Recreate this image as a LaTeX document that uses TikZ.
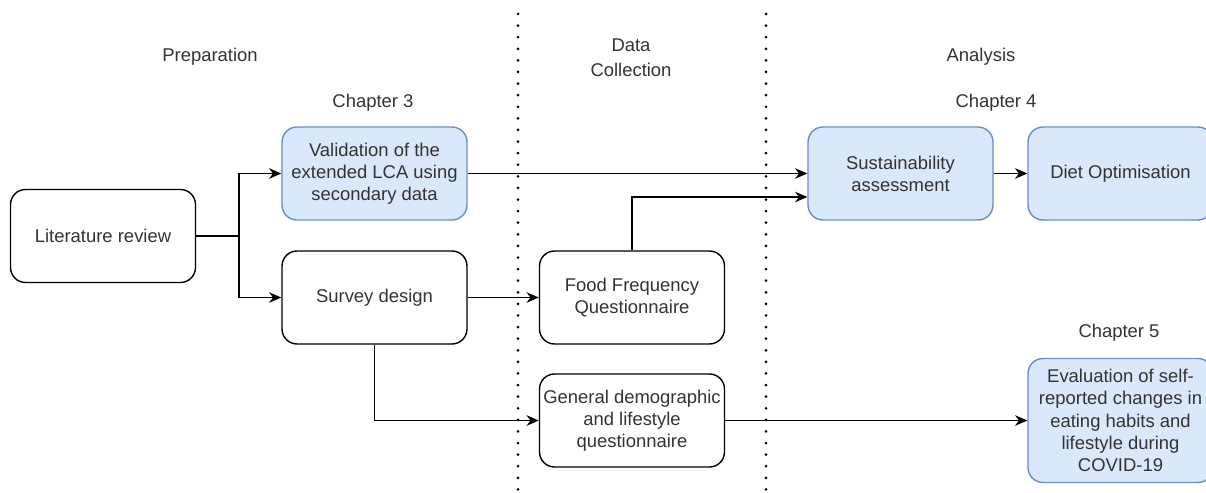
\documentclass[tikz,border=0pt]{standalone}
\usepackage{fontspec}
\setmainfont{Liberation Sans}
\usepackage{xcolor}
\usetikzlibrary{arrows.meta,calc,positioning}
\definecolor{boxblue}{HTML}{DAE8FC}
\definecolor{edgeblue}{HTML}{6C8EBF}
\definecolor{textgrey}{HTML}{333333}

\begin{document}
\begin{tikzpicture}[
    x=0.02cm, y=-0.02cm,
    font=\fontsize{10.5}{12.6}\selectfont,
    text=textgrey,
    stage/.style={rectangle, rounded corners=0.3cm, draw=black, line width=0.8pt,
        minimum width=3.7cm, minimum height=1.86cm, align=center, inner sep=2pt},
    chapter/.style={stage, fill=boxblue, draw=edgeblue},
    label/.style={align=center, inner sep=0},
    flow/.style={line width=0.8pt, -{Stealth[length=7pt, width=6pt]}},
    divider/.style={line width=1.7pt, line cap=round, dash pattern=on 0pt off 6.6pt}
    ]
\useasboundingbox (0,0) rectangle (1206,493);

% phase dividers
\path[draw, divider] (518,14) -- (518,493);
\path[draw, divider] (766,14) -- (766,493);

% phase and chapter titles
\node[label] (prep) at (210,57) {Preparation};
\node[label] (collect) at (631,57.5) {Data\\[1.6pt]Collection};
\node[label] (analysis) at (981,57) {Analysis};
\node[label] (ch3) at (373,103) {Chapter 3};
\node[label] (ch4) at (996,103) {Chapter 4};
\node[label] (ch5) at (1119,333) {Chapter 5};

% boxes
\node[stage] (litrev) at (103,236) {Literature review};
\node[chapter] (valid) at (374.5,173.5) {Validation of the\\extended LCA using\\secondary data};
\node[stage] (survey) at (374.5,297.5) {Survey design};
\node[stage] (ffq) at (632,297.5) {Food Frequency\\Questionnaire};
\node[stage] (general) at (632,420.5) {General demographic\\and lifestyle\\questionnaire};
\node[chapter] (sustain) at (900.5,173.5) {Sustainability\\assessment};
\node[chapter] (dietopt) at (1120.5,173.5) {Diet Optimisation};
\node[chapter, minimum height=2.48cm] (covid) at (1120.5,420.5) {Evaluation of self-\\reported changes in\\eating habits and\\lifestyle during\\COVID-19};

% connectors
\coordinate (split) at (239,236);
\path[draw, line width=0.8pt] (litrev.east) -- (split);
\path[draw, flow] (split) |- (valid.west);
\path[draw, flow] (split) |- (survey.west);
\path[draw, flow] (valid.east) -- (sustain.west);
\path[draw, flow] (ffq.north) |- ([yshift=-0.47cm]sustain.west);
\path[draw, flow] (sustain.east) -- (dietopt.west);
\path[draw, flow] (survey.east) -- (ffq.west);
\path[draw, flow] (survey.south) |- (general.west);
\path[draw, flow] (general.east) -- (covid.west);

\end{tikzpicture}
\end{document}
